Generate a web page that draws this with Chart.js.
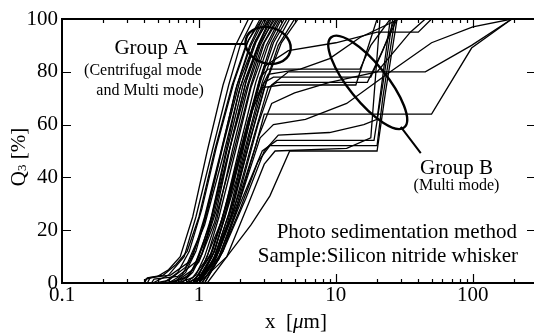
<!DOCTYPE html>
<html>
<head>
<meta charset="utf-8">
<script src="https://cdn.jsdelivr.net/npm/chart.js@4.4.0/dist/chart.umd.min.js"></script>
<style>
  html, body { margin: 0; padding: 0; background: #fff; }
</style>
</head>
<body>
<canvas id="graficoQ3" width="534" height="334"></canvas>
<script>
// eixo x (log) e eixo y
const xTicks = [0.1, 1, 10, 100];
const yTicks = [0, 20, 40, 60, 80, 100];
const xMin = 0.1, xMax = 280;

// Grupo A: curvas de centrifugacao / multi mode  ([x um, Q3 %])
const groupA = [
  [[0.40,0],[0.41,1.5],[0.50,2.5],[0.60,5],[0.73,10],[0.90,25],[1.15,50],[1.50,75],[1.85,90],[2.30,100]],
  [[0.46,0],[0.60,3],[0.78,10],[0.95,25],[1.25,50],[1.65,75],[2.00,90],[2.50,100]],
  [[0.40,0],[0.42,2],[0.55,3],[0.68,7],[0.82,12],[1.00,25],[1.30,50],[1.75,75],[2.20,90],[2.80,100]],
  [[0.55,0],[0.70,4],[0.85,12],[1.05,28],[1.35,52],[1.80,76],[2.30,92],[2.90,100]],
  [[0.60,0],[0.75,3],[0.90,10],[1.10,25],[1.45,50],[1.90,75],[2.40,90],[3.00,100]],
  [[0.42,0],[0.44,2],[0.62,3],[0.85,8],[1.10,22],[1.50,48],[2.00,74],[2.60,91],[3.20,100]],
  [[0.65,0],[0.80,4],[0.95,12],[1.15,27],[1.50,52],[2.00,77],[2.60,92],[3.30,100]],
  [[0.70,0],[0.85,3],[1.00,10],[1.25,26],[1.60,50],[2.10,75],[2.70,90],[3.40,100]],
  [[0.45,0],[0.47,1.5],[0.70,2.5],[0.95,8],[1.20,22],[1.60,47],[2.20,73],[2.80,90],[3.50,100]],
  [[0.75,0],[0.90,4],[1.05,11],[1.30,27],[1.70,52],[2.20,76],[2.80,91],[3.60,100]],
  [[0.80,0],[0.95,3],[1.10,10],[1.35,24],[1.75,50],[2.30,75],[2.90,90],[3.70,100]],
  [[0.60,0],[0.80,2],[1.00,8],[1.30,23],[1.80,50],[2.40,75],[3.00,91],[3.80,100]],
  [[0.85,0],[1.00,3],[1.15,10],[1.40,25],[1.85,50],[2.40,74],[3.10,90],[3.90,100]],
  [[0.90,0],[1.00,2],[1.20,9],[1.50,25],[1.95,50],[2.60,76],[3.20,90],[4.00,100]],
  [[0.70,0],[0.90,2],[1.10,8],[1.45,23],[2.00,50],[2.70,75],[3.40,91],[4.20,100]],
  [[0.95,0],[1.05,3],[1.25,10],[1.55,25],[2.05,50],[2.80,76],[3.50,91],[4.40,100]],
  [[1.00,0],[1.10,3],[1.30,10],[1.65,26],[2.20,52],[2.90,76],[3.70,91],[4.60,100]],
  [[0.80,0],[1.00,2],[1.25,8],[1.60,22],[2.20,48],[3.00,74],[3.80,90],[5.00,100]],
  [[0.55,0],[0.70,1],[0.90,5],[1.15,18],[1.50,45],[1.95,72],[2.50,90],[3.10,100]],
  [[0.48,0],[0.60,1],[0.80,6],[1.05,20],[1.40,46],[1.85,73],[2.35,90],[2.90,100]],
  [[0.90,0],[1.05,2],[1.30,9],[1.70,25],[2.30,52],[3.10,76],[4.00,91],[5.30,100]],
  [[0.65,0],[0.85,3],[1.05,11],[1.35,28],[1.75,55],[2.25,78],[2.75,91],[3.30,100]]
];

// Grupo B: multi mode, com patamares
const groupB = [
  [[0.90,0],[1.20,10],[1.60,30],[2.20,55],[2.80,78],[3.20,81],[15.0,81],[18.0,90],[25.0,100]],
  [[1.00,0],[1.30,10],[1.80,32],[2.40,58],[3.00,76],[3.50,78],[18.0,78],[22.0,88],[27.0,100]],
  [[0.95,0],[1.30,8],[1.80,28],[2.50,55],[3.20,74],[3.70,76],[17.0,76],[21.0,86],[28.0,100]],
  [[1.00,0],[1.35,10],[1.90,30],[2.60,52],[3.00,64],[50.0,64],[98.0,89],[193,100]],
  [[1.05,0],[1.40,9],[2.00,28],[2.70,46],[3.30,52],[20.0,52],[22.0,70],[27.0,100]],
  [[1.00,0],[1.60,10],[2.40,22],[3.30,33],[4.60,50],[20.0,50],[23.0,72],[28.0,100]],
  [[1.00,0],[1.40,10],[2.00,30],[2.90,50],[3.70,54],[19.0,54],[22.0,75],[26.0,100]],
  [[1.10,0],[1.50,12],[2.20,32],[3.00,50],[3.80,56],[9.00,57],[16.0,60],[20.0,62],[25.0,100]],
  [[1.00,0],[1.40,12],[2.00,35],[2.70,60],[3.40,75],[4.50,80],[45.0,80],[98.0,90],[193,100]],
  [[1.00,0],[1.30,12],[1.80,38],[2.40,65],[3.00,82],[4.50,88],[10.0,91],[20.0,95],[40.0,95],[50.0,100]],
  [[1.10,0],[1.50,12],[2.10,35],[2.80,55],[3.50,60],[6.00,62],[12.0,68],[25.0,80],[50.0,91],[100,97],[193,100]],
  [[1.05,0],[1.40,10],[2.00,32],[2.70,55],[3.40,68],[5.00,72],[9.00,76],[20.0,80],[35.0,95],[45.0,100]],
  [[0.90,0],[1.25,12],[1.70,35],[2.30,62],[2.90,74],[4.00,75],[14.0,75],[20.0,100]],
  [[1.15,0],[1.60,10],[2.30,30],[3.00,45],[3.60,50],[12.0,51],[18.0,55],[21.0,100]],
  [[0.95,0],[1.30,12],[1.90,40],[2.50,68],[3.20,79],[5.50,81],[9.00,85],[15.0,93],[29.0,100]]
];

const serif = "'Liberation Serif', 'Times New Roman', serif";

function toDataset(curve) {
  return {
    data: curve.map(p => ({ x: p[0], y: p[1] })),
    borderColor: '#000',
    borderWidth: 1.3,
    pointRadius: 0,
    fill: false,
    tension: 0
  };
}

// moldura superior, ticks para dentro, elipses e textos
const decorPlugin = {
  id: 'decor',
  afterDraw(chart) {
    const { ctx, chartArea: a, scales: { x, y } } = chart;
    const px = v => x.getPixelForValue(v);
    const py = v => y.getPixelForValue(v);
    ctx.save();
    ctx.strokeStyle = '#000';
    ctx.fillStyle = '#000';

    ctx.lineWidth = 2;
    ctx.beginPath();
    ctx.moveTo(a.left - 1, a.top);
    ctx.lineTo(a.right, a.top);
    ctx.stroke();

    ctx.lineWidth = 1.2;
    ctx.beginPath();
    for (let d = 0.1; d < xMax; d *= 10) {
      for (let k = 1; k <= 9; k++) {
        const v = k * d;
        if (v <= xMin * 1.001 || v > xMax) continue;
        const len = k === 1 ? 9 : 4;
        const p = Math.round(px(v)) + 0.5;
        ctx.moveTo(p, a.bottom); ctx.lineTo(p, a.bottom - len);
        ctx.moveTo(p, a.top); ctx.lineTo(p, a.top + len);
      }
    }
    yTicks.slice(1, -1).forEach(v => {
      const p = Math.round(py(v)) + 0.5;
      ctx.moveTo(a.left, p); ctx.lineTo(a.left + 9, p);
      ctx.moveTo(a.right, p); ctx.lineTo(a.right - 7, p);
    });
    ctx.stroke();

    // elipses dos grupos
    ctx.lineWidth = 2.4;
    ctx.beginPath();
    ctx.ellipse(px(3.2), py(90), 23, 18, 0.3, 0, Math.PI * 2);
    ctx.stroke();
    ctx.beginPath();
    ctx.ellipse(px(17.1), py(76), 58, 19, 0.89, 0, Math.PI * 2);
    ctx.stroke();

    ctx.lineWidth = 2;
    ctx.beginPath();
    ctx.moveTo(px(0.97), py(90.5));
    ctx.lineTo(px(2.17), py(90.5));
    ctx.moveTo(px(29.8), py(59.1));
    ctx.lineTo(px(41.7), py(49.2));
    ctx.stroke();

    ctx.textAlign = 'center';
    ctx.textBaseline = 'middle';
    ctx.font = '21px ' + serif;
    ctx.fillText('Group A', px(0.45), py(89));
    ctx.fillText('Group B', px(76), py(43.2));
    ctx.font = '16px ' + serif;
    ctx.fillText('(Centrifugal mode', px(0.39), py(80.3));
    ctx.fillText('and Multi mode)', px(0.44), py(72.7));
    ctx.fillText('(Multi mode)', px(76), py(36.7));

    ctx.textAlign = 'right';
    ctx.font = '21px ' + serif;
    ctx.fillText('Photo sedimentation method', a.right - 17, py(19.3));
    ctx.fillText('Sample:Silicon nitride whisker', a.right - 16, py(10.2));

    // titulo do eixo x: x [μm]
    const xTitle = [['x  [', '21px ' + serif], ['\u03bc', 'italic 21px ' + serif], ['m]', '21px ' + serif]];
    let total = 0;
    xTitle.forEach(([t, f]) => { ctx.font = f; total += ctx.measureText(t).width; });
    let cx = 296 - total / 2;
    ctx.textAlign = 'left';
    xTitle.forEach(([t, f]) => { ctx.font = f; ctx.fillText(t, cx, 322); cx += ctx.measureText(t).width; });

    // titulo do eixo y: Q3 [%]
    ctx.translate(19, 157);
    ctx.rotate(-Math.PI / 2);
    const parts = [['Q', '21px ' + serif, 0], ['3', '13px ' + serif, 4], [' [%]', '21px ' + serif, 0]];
    total = 0;
    parts.forEach(([t, f]) => { ctx.font = f; total += ctx.measureText(t).width; });
    cx = -total / 2;
    parts.forEach(([t, f, dy]) => { ctx.font = f; ctx.fillText(t, cx, dy); cx += ctx.measureText(t).width; });
    ctx.restore();
  }
};

const configuracaoGrafico = {
  type: 'line',
  data: { datasets: groupA.concat(groupB).map(toDataset) },
  options: {
    responsive: false,
    animation: false,
    layout: { padding: { left: 0, top: 19, right: 0, bottom: 0 } },
    plugins: { legend: { display: false }, tooltip: { enabled: false } },
    scales: {
      x: {
        type: 'logarithmic',
        min: xMin,
        max: xMax,
        afterBuildTicks: s => { s.ticks = xTicks.map(v => ({ value: v })); },
        afterFit: s => { s.height = 51; },
        grid: { display: false, drawTicks: false },
        border: { display: true, color: '#000', width: 2 },
        ticks: {
          autoSkip: false, maxRotation: 0, padding: 0, color: '#000',
          font: { family: serif, size: 21 },
          callback: v => String(v)
        }
      },
      y: {
        min: 0,
        max: 100,
        afterBuildTicks: s => { s.ticks = yTicks.map(v => ({ value: v })); },
        afterFit: s => { s.width = 62; },
        grid: { display: false, drawTicks: false },
        border: { display: true, color: '#000', width: 2 },
        ticks: {
          padding: 4, color: '#000',
          font: { family: serif, size: 21 },
          callback: v => String(v)
        }
      }
    }
  },
  plugins: [decorPlugin]
};

var graficoQ3 = new Chart(document.getElementById('graficoQ3'), configuracaoGrafico);
</script>
</body>
</html>
